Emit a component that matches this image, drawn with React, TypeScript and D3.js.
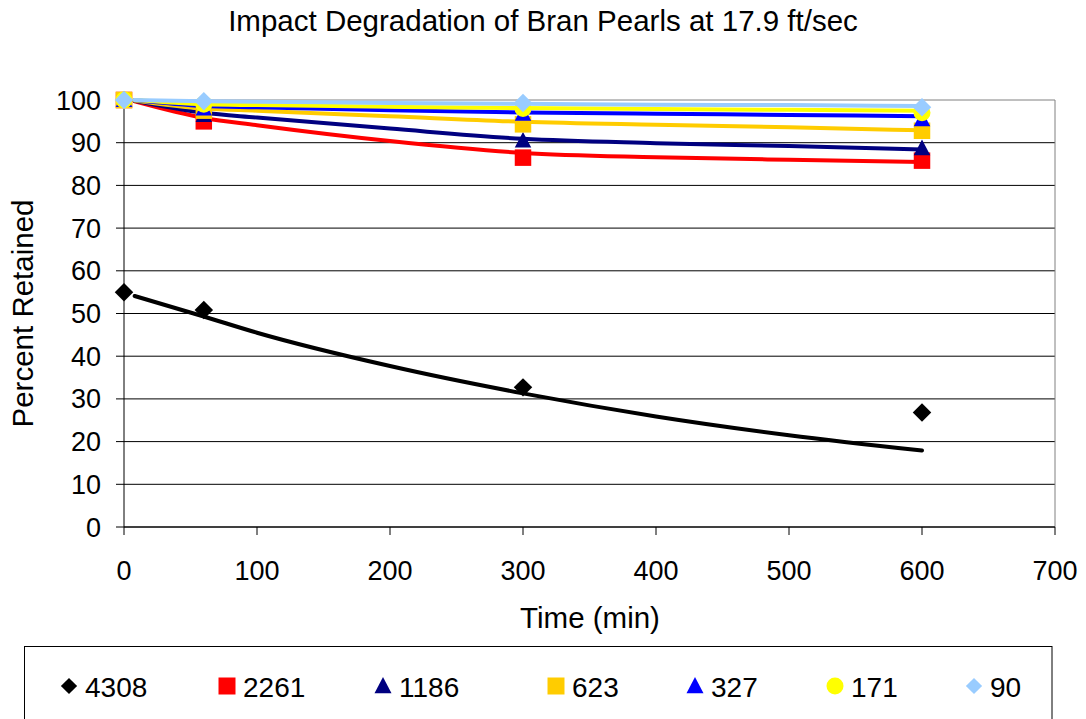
import React from "react";
import * as d3 from "d3";

const W = 1086;
const H = 719;

const markerTimes = [0, 60, 300, 600];
const lineTimes = [8, 60, 100, 200, 300, 400, 500, 600];

const seriesNames = ["4308", "2261", "1186", "623", "327", "171", "90"];
const seriesColors = ["#000000", "#FF0000", "#000080", "#FFCC00", "#0000FF", "#FFFF00", "#99CCFF"];
const seriesShapes = ["diamond", "square", "triangle", "square", "triangle", "circle", "diamond"];

const marker4308 = [55, 50.8, 32.7, 26.8];
const marker2261 = [100, 95, 86.5, 85.8];
const marker1186 = [100, 96.5, 90.5, 88.7];
const marker623 = [100, 97.5, 94.3, 92.8];
const marker327 = [100, 98, 96.8, 95.5];
const marker171 = [100, 99, 98, 97];
const marker90 = [100, 99.7, 99.3, 98.3];

const line4308 = [54.1, 49.3, 45.5, 37.7, 31.3, 25.9, 21.5, 17.9];
const line2261 = [99.7, 95.8, 94.1, 90.4, 87.6, 86.6, 86.0, 85.5];
const line1186 = [99.8, 97.0, 95.9, 93.3, 90.9, 89.9, 89.2, 88.4];
const line623 = [99.9, 98.0, 97.5, 96.2, 94.9, 94.2, 93.6, 92.9];
const line327 = [100, 98.6, 98.3, 97.6, 97.1, 96.8, 96.5, 96.2];
const line171 = [100, 99.0, 98.8, 98.4, 98.1, 97.9, 97.7, 97.5];
const line90 = [100, 99.7, 99.6, 99.3, 99.1, 98.9, 98.8, 98.6];

const markerValues = [marker4308, marker2261, marker1186, marker623, marker327, marker171, marker90];
const lineValues = [line4308, line2261, line1186, line623, line327, line171, line90];

const xTicks = [0, 100, 200, 300, 400, 500, 600, 700];
const yTicks = [0, 10, 20, 30, 40, 50, 60, 70, 80, 90, 100];

const titleText = "Impact Degradation of Bran Pearls at 17.9 ft/sec";
const xTitle = "Time (min)";
const yTitle = "Percent Retained";

const FONT = "'Liberation Sans', Arial, Helvetica, sans-serif";

function shapePath(shape: string, cx: number, cy: number, s: number): string {
  const h = s / 2;
  if (shape === "square") {
    return `M${cx - h},${cy - h}h${s}v${s}h${-s}Z`;
  }
  if (shape === "diamond") {
    const d = h * 1.12;
    return `M${cx},${cy - d}L${cx + d},${cy}L${cx},${cy + d}L${cx - d},${cy}Z`;
  }
  if (shape === "triangle") {
    return `M${cx},${cy - h * 1.05}L${cx + h},${cy + h * 0.85}L${cx - h},${cy + h * 0.85}Z`;
  }
  return "";
}

function Marker({ shape, cx, cy, s, color }: { shape: string; cx: number; cy: number; s: number; color: string }) {
  if (shape === "circle") {
    return <circle cx={cx} cy={cy} r={s / 2} fill={color} />;
  }
  return <path d={shapePath(shape, cx, cy, s)} fill={color} />;
}

export default function App() {
  const left = 124;
  const right = 1055;
  const top = 100;
  const bottom = 527;

  const x = d3.scaleLinear().domain([0, 700]).range([left, right]);
  const y = d3.scaleLinear().domain([0, 100]).range([bottom, top]);

  const lineGen = d3
    .line<[number, number]>()
    .x((d) => x(d[0]))
    .y((d) => y(d[1]))
    .curve(d3.curveMonotoneX);

  const legendX = [69, 227, 383, 556, 695, 835, 974];
  const legendY = 686;

  return (
    <svg
      width={W}
      height={H}
      style={{ position: "absolute", left: 0, top: 0, background: "#fff" }}
      fontFamily={FONT}
    >
      <rect x={0} y={0} width={W} height={H} fill="#fff" />
      <text x={543} y={31} textAnchor="middle" fontSize={29.5} fill="#000">
        {titleText}
      </text>

      {/* gridlines */}
      {yTicks.map((t) => (
        <line key={"g" + t} x1={left - 8} x2={right} y1={y(t)} y2={y(t)} stroke={t === 100 ? "#808080" : "#000"} strokeWidth={1} />
      ))}
      <line x1={right} x2={right} y1={top} y2={bottom} stroke="#808080" strokeWidth={1} />
      <line x1={left} x2={left} y1={top} y2={bottom} stroke="#000" strokeWidth={1} />
      <line x1={left} x2={right} y1={bottom} y2={bottom} stroke="#000" strokeWidth={1} />
      {xTicks.map((t) => (
        <line key={"xt" + t} x1={x(t)} x2={x(t)} y1={bottom} y2={bottom + 8} stroke="#000" strokeWidth={1} />
      ))}

      {yTicks.map((t) => (
        <text key={"yl" + t} x={101} y={y(t) + 9.5} textAnchor="end" fontSize={27} fill="#000">
          {t}
        </text>
      ))}
      {xTicks.map((t) => (
        <text key={"xl" + t} x={x(t)} y={580} textAnchor="middle" fontSize={27} fill="#000">
          {t}
        </text>
      ))}

      <text x={590} y={628} textAnchor="middle" fontSize={29.5} fill="#000">
        {xTitle}
      </text>
      <text
        transform={`translate(33,${(top + bottom) / 2}) rotate(-90)`}
        textAnchor="middle"
        fontSize={29.5}
        fill="#000"
      >
        {yTitle}
      </text>

      {seriesNames.map((name, i) => {
        const pts: [number, number][] = lineTimes.map((t, j) => [t, lineValues[i][j]]);
        return (
          <g key={name}>
            <path d={lineGen(pts) || ""} fill="none" stroke={seriesColors[i]} strokeWidth={4} strokeLinecap="round" />
            {markerTimes.map((t, j) => (
              <Marker
                key={j}
                shape={seriesShapes[i]}
                cx={x(t)}
                cy={y(markerValues[i][j])}
                s={seriesShapes[i] === "circle" ? 17 : 16.5}
                color={seriesColors[i]}
              />
            ))}
          </g>
        );
      })}

      <rect x={24.5} y={646.5} width={1027.5} height={100} fill="#fff" stroke="#000" strokeWidth={1} />
      {seriesNames.map((name, i) => (
        <g key={"lg" + name}>
          <Marker
            shape={seriesShapes[i]}
            cx={legendX[i]}
            cy={legendY}
            s={seriesShapes[i] === "diamond" ? 14.5 : 17}
            color={seriesColors[i]}
          />
          <text x={legendX[i] + 16} y={legendY + 10.5} fontSize={28} fill="#000">
            {name}
          </text>
        </g>
      ))}
    </svg>
  );
}
